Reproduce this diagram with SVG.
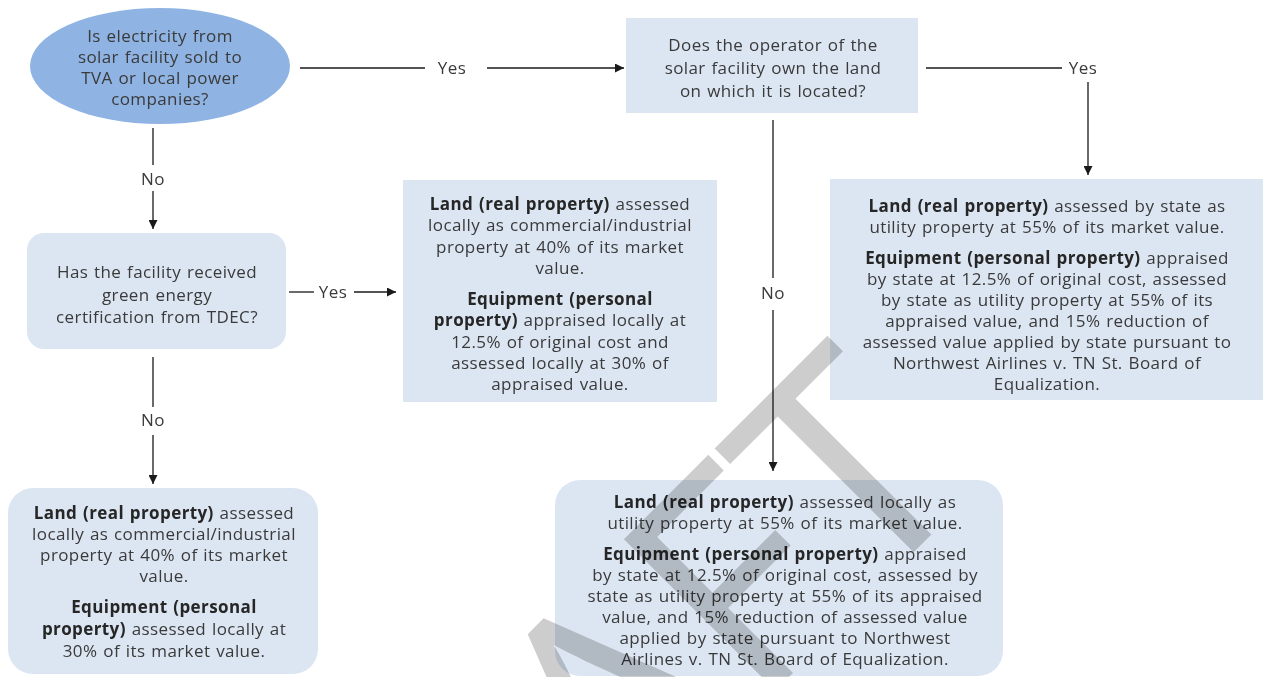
<svg xmlns="http://www.w3.org/2000/svg" width="1263" height="677" viewBox="0 0 1263 677">
<defs>
<marker id="arr" viewBox="0 0 10 10" refX="10" refY="5" markerWidth="10" markerHeight="9" markerUnits="userSpaceOnUse" orient="auto">
<path d="M0,0 L10,5 L0,10 z" fill="#1a1a1a"/>
</marker>
<style>
text{font-family:"Open Sans","Liberation Sans",sans-serif;font-size:17px;letter-spacing:0.4px;word-spacing:1px;fill:#3a3a3a;text-anchor:middle}
.b{font-weight:700;fill:#262626}
.box{fill:#dce6f2}
.ln{stroke:#1a1a1a;stroke-width:1.3;fill:none}
#watermark text{font-size:300px;letter-spacing:0;word-spacing:0;fill:#cdcdcd;text-anchor:end;mix-blend-mode:multiply}
</style>
</defs>
<rect width="1263" height="677" fill="#ffffff"/>

<g id="connectors">
<line class="ln" x1="300" y1="68" x2="425" y2="68"/>
<text x="452" y="74">Yes</text>
<line class="ln" x1="487" y1="68" x2="624" y2="68" marker-end="url(#arr)"/>

<line class="ln" x1="926" y1="68" x2="1062" y2="68"/>
<text x="1083" y="74">Yes</text>
<line class="ln" x1="1088" y1="82" x2="1088" y2="175" marker-end="url(#arr)"/>

<line class="ln" x1="773" y1="120" x2="773" y2="278"/>
<text x="773" y="299">No</text>
<line class="ln" x1="773" y1="310" x2="773" y2="471" marker-end="url(#arr)"/>

<line class="ln" x1="153" y1="128" x2="153" y2="165"/>
<text x="153" y="185">No</text>
<line class="ln" x1="153" y1="191" x2="153" y2="229" marker-end="url(#arr)"/>

<line class="ln" x1="289" y1="292" x2="314" y2="292"/>
<text x="333" y="298">Yes</text>
<line class="ln" x1="354" y1="292" x2="396" y2="292" marker-end="url(#arr)"/>

<line class="ln" x1="153" y1="357" x2="153" y2="407"/>
<text x="153" y="426">No</text>
<line class="ln" x1="153" y1="435" x2="153" y2="484" marker-end="url(#arr)"/>
</g>

<g id="n1-start">
<ellipse cx="160" cy="66" rx="130" ry="58" fill="#8fb4e3"/>
<text x="160" y="42">Is electricity from</text>
<text x="160" y="63">solar facility sold to</text>
<text x="160" y="84">TVA or local power</text>
<text x="160" y="104.5">companies?</text>
</g>

<g id="n2-own-land">
<rect class="box" x="626" y="18" width="292" height="95"/>
<text x="773" y="51">Does the operator of the</text>
<text x="773" y="74">solar facility own the land</text>
<text x="773" y="97">on which it is located?</text>
</g>

<g id="n3-green">
<rect class="box" x="27" y="233" width="259" height="116" rx="17"/>
<text x="157" y="278">Has the facility received</text>
<text x="157" y="301">green energy</text>
<text x="157" y="323">certification from TDEC?</text>
</g>

<g id="n4-green-yes">
<rect class="box" x="403" y="180" width="314" height="222"/>
<text x="560" y="210"><tspan class="b">Land (real property)</tspan> assessed</text>
<text x="560" y="231">locally as commercial/industrial</text>
<text x="560" y="253">property at 40% of its market</text>
<text x="560" y="274">value.</text>
<text x="560" y="305" class="b">Equipment (personal</text>
<text x="560" y="326"><tspan class="b">property)</tspan> appraised locally at</text>
<text x="560" y="348">12.5% of original cost and</text>
<text x="560" y="369">assessed locally at 30% of</text>
<text x="560" y="390">appraised value.</text>
</g>

<g id="n5-state">
<rect class="box" x="830" y="179" width="433" height="221"/>
<text x="1047" y="212"><tspan class="b">Land (real property)</tspan> assessed by state as</text>
<text x="1047" y="233">utility property at 55% of its market value.</text>
<text x="1047" y="264"><tspan class="b">Equipment (personal property)</tspan> appraised</text>
<text x="1047" y="285">by state at 12.5% of original cost, assessed</text>
<text x="1047" y="306">by state as utility property at 55% of its</text>
<text x="1047" y="327">appraised value, and 15% reduction of</text>
<text x="1047" y="348">assessed value applied by state pursuant to</text>
<text x="1047" y="369">Northwest Airlines v. TN St. Board of</text>
<text x="1047" y="390">Equalization.</text>
</g>

<g id="n6-local-utility">
<rect class="box" x="555" y="480" width="448" height="196" rx="25"/>
<text x="785" y="508"><tspan class="b">Land (real property)</tspan> assessed locally as</text>
<text x="785" y="529">utility property at 55% of its market value.</text>
<text x="785" y="560"><tspan class="b">Equipment (personal property)</tspan> appraised</text>
<text x="785" y="581">by state at 12.5% of original cost, assessed by</text>
<text x="785" y="602">state as utility property at 55% of its appraised</text>
<text x="785" y="623">value, and 15% reduction of assessed value</text>
<text x="785" y="644">applied by state pursuant to Northwest</text>
<text x="785" y="665">Airlines v. TN St. Board of Equalization.</text>
</g>

<g id="n7-green-no">
<rect class="box" x="8" y="488" width="310" height="186" rx="25"/>
<text x="164" y="519"><tspan class="b">Land (real property)</tspan> assessed</text>
<text x="164" y="540">locally as commercial/industrial</text>
<text x="164" y="561">property at 40% of its market</text>
<text x="164" y="582">value.</text>
<text x="164" y="613" class="b">Equipment (personal</text>
<text x="164" y="635"><tspan class="b">property)</tspan> assessed locally at</text>
<text x="164" y="657">30% of its market value.</text>
</g>

<g id="watermark">
<text transform="translate(981,485) rotate(-45)">DRAFT</text>
</g>
</svg>
